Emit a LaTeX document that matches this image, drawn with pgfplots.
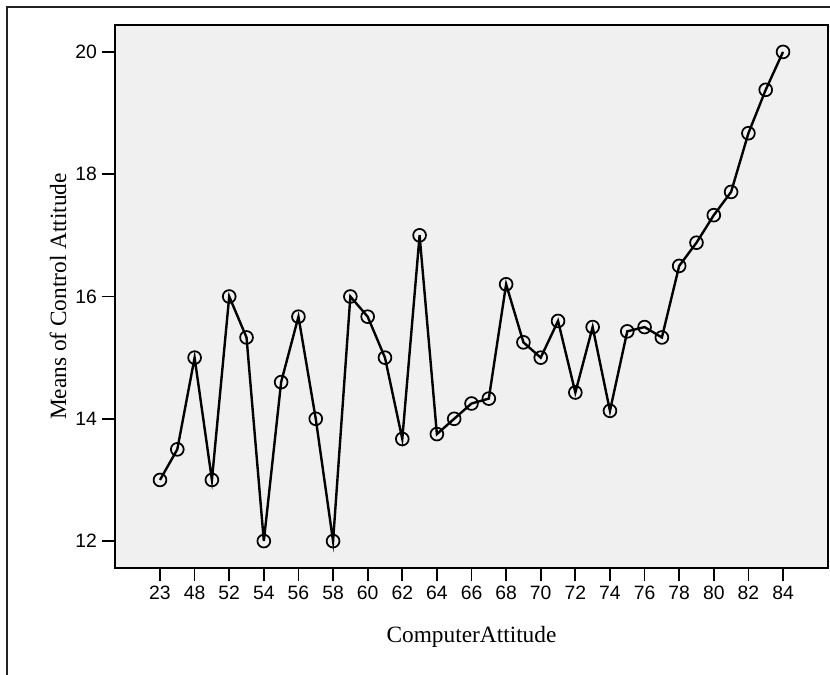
\documentclass[border=0pt]{standalone}
\usepackage{fontspec}
\setmainfont{Liberation Serif}
\newfontfamily\arial{Liberation Sans}
\usepackage{pgfplots}
\pgfplotsset{compat=1.18}
\definecolor{plotbg}{HTML}{F0F0F0}
\definecolor{frame}{HTML}{222222}

\begin{document}
\begin{tikzpicture}
% page = 830x674 px, 1px = 0.75pt
\path[use as bounding box] (0,0) rectangle (622.5pt,505.5pt);
\draw[frame, line width=1.6pt] (5.25pt,-1pt) -- (5.25pt,500.25pt) -- (623.5pt,500.25pt);
\begin{axis}[
  at={(86.25pt,79.5pt)}, anchor=south west,
  scale only axis, width=534.75pt, height=407.25pt,
  xmin=-2.6, xmax=38.6, ymin=11.56, ymax=20.44,
  axis background/.style={fill=plotbg},
  axis line style={line width=1.3pt},
  xtick={0,2,...,36},
  xticklabels={23,48,52,54,56,58,60,62,64,66,68,70,72,74,76,78,80,82,84},
  ytick={12,14,16,18,20},
  xtick pos=bottom, ytick pos=left,
  tick align=outside,
  major tick length=10pt,
  tick style={line width=1.3pt, black},
  ticklabel style={font=\arial\fontsize{14.5}{17}\selectfont},
  /pgf/number format/assume math mode=true,
  xlabel={ComputerAttitude},
  ylabel={Means of Control Attitude},
  every axis x label/.style={at={(axis description cs:0.5,-0.138)}, anchor=base,
    font=\fontsize{17.5}{20}\selectfont},
  every axis y label/.style={at={(axis description cs:-0.0687,0.5)}, rotate=90, anchor=base,
    font=\fontsize{17.5}{20}\selectfont},
]
\addplot[black, line width=1.8pt, mark=o, mark size=4.8pt,
  mark options={line width=1.3pt}]
  coordinates {
    (0,13.0) (1,13.5) (2,15.0) (3,13.0) (4,16.0) (5,15.33)
    (6,12.0) (7,14.6) (8,15.67) (9,14.0) (10,12.0) (11,16.0)
    (12,15.67) (13,15.0) (14,13.67) (15,17.0) (16,13.75) (17,14.0)
    (18,14.25) (19,14.33) (20,16.2) (21,15.25) (22,15.0) (23,15.6)
    (24,14.43) (25,15.5) (26,14.13) (27,15.43) (28,15.5) (29,15.33)
    (30,16.5) (31,16.88) (32,17.33) (33,17.71) (34,18.67) (35,19.38)
    (36,20.0)
  };
\end{axis}
\end{tikzpicture}
\end{document}
